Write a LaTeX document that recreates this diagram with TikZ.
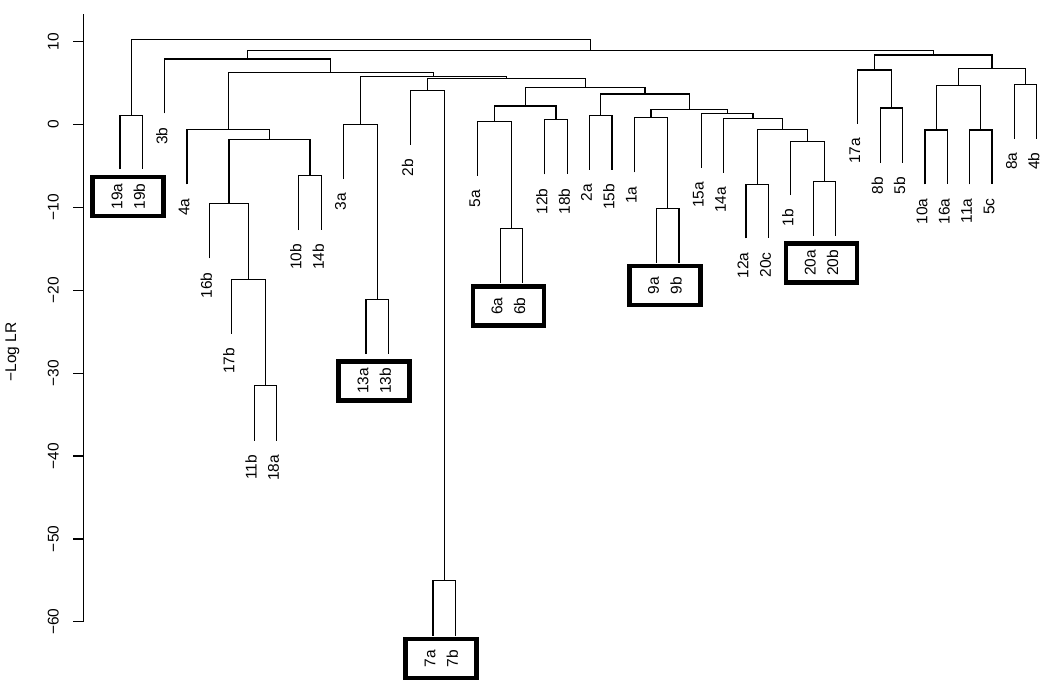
\documentclass[tikz,border=0pt]{standalone}
\usepackage{fontspec}
\setmainfont{Liberation Sans}
\usetikzlibrary{calc}
% join two clusters at a given height
\newcommand\dmerge[4]{%
  \coordinate (#1) at ($(#2)!0.5!(#3)$);
  \coordinate (#1) at (#1 |- 0,#4);
  \draw (#2) |- (#1) -| (#3);}
\begin{document}
\begin{tikzpicture}[x=22.36pt,y=8.29pt,line width=1.2pt,
  font=\fontsize{15.5}{18}\selectfont,
  leaflab/.style={rotate=90,anchor=east,inner sep=0pt},
  ticklab/.style={rotate=90,inner sep=0pt},
  pairbox/.style={draw,line width=4.5pt,minimum width=71pt,minimum height=39pt,inner sep=0pt}]
  \useasboundingbox (-5.367,-67.74) rectangle (41.592,15.006);

  % axis
  \coordinate (axtop) at (-1.64,13.3);
  \coordinate (axbot) at (-1.64,-60);
  \draw (axtop) -- (axbot);
  \foreach \t/\lab in {10/10,0/0,-10/−10,-20/−20,-30/−30,-40/−40,-50/−50,-60/−60}{
    \coordinate (tk\t) at (-1.64,\t);
    \draw (tk\t) -- ++(-10.7pt,0);
    \node[ticklab] (tl\t) at ([xshift=-30pt]tk\t) {\lab};
  }
  \node[ticklab] (ylab) at (-4.81,-27.45) {−Log LR};

  % leaves
  \foreach \nm/\h [count=\i from 0] in {19a/-5.42,19b/-5.42,3b/1.34,4a/-7.23,16b/-16.15,
    17b/-25.28,11b/-38.15,18a/-38.15,10b/-12.74,14b/-12.74,3a/-6.59,13a/-27.70,13b/-27.70,
    2b/-2.48,7a/-61.68,7b/-61.68,5a/-6.22,6a/-19.17,6b/-19.17,12b/-6.02,18b/-6.02,
    2a/-5.50,15b/-5.50,1a/-5.78,9a/-16.68,9b/-16.68,15a/-5.22,14a/-5.86,12a/-13.74,
    20c/-13.74,1b/-8.52,20a/-13.46,20b/-13.46,17a/0.05,8b/-4.66,5b/-4.66,10a/-7.23,
    16a/-7.23,11a/-7.23,5c/-7.23,8a/-1.72,4b/-1.72}{
    \coordinate (l\nm) at (\i,\h);
    \node[leaflab] (t\nm) at ([xshift=-3pt,yshift=-13.5pt]l\nm) {\nm};
  }

  % tree
  \dmerge{m19}{l19a}{l19b}{1.10}
  \dmerge{m11b}{l11b}{l18a}{-31.52}
  \dmerge{m17b}{l17b}{m11b}{-18.68}
  \dmerge{m16b}{l16b}{m17b}{-9.52}
  \dmerge{m10b}{l10b}{l14b}{-6.19}
  \dmerge{mA}{m16b}{m10b}{-1.85}
  \dmerge{m4a}{l4a}{mA}{-0.64}
  \dmerge{m13}{l13a}{l13b}{-21.10}
  \dmerge{m3a}{l3a}{m13}{-0.05}
  \dmerge{m7}{l7a}{l7b}{-55.04}
  \dmerge{m2b}{l2b}{m7}{4.11}
  \dmerge{m6}{l6a}{l6b}{-12.53}
  \dmerge{m5a}{l5a}{m6}{0.33}
  \dmerge{m12b}{l12b}{l18b}{0.57}
  \dmerge{mB}{m5a}{m12b}{2.22}
  \dmerge{m2a}{l2a}{l15b}{1.10}
  \dmerge{m9}{l9a}{l9b}{-10.12}
  \dmerge{m1a}{l1a}{m9}{0.81}
  \dmerge{m12a}{l12a}{l20c}{-7.23}
  \dmerge{m20}{l20a}{l20b}{-6.91}
  \dmerge{m1b}{l1b}{m20}{-2.04}
  \dmerge{mC}{m12a}{m1b}{-0.64}
  \dmerge{m14a}{l14a}{mC}{0.74}
  \dmerge{m15a}{l15a}{m14a}{1.29}
  \dmerge{mD}{m1a}{m15a}{1.77}
  \dmerge{mE}{m2a}{mD}{3.67}
  \dmerge{mF}{mB}{mE}{4.48}
  \dmerge{mG}{m2b}{mF}{5.51}
  \dmerge{mH}{m3a}{mG}{5.75}
  \dmerge{mI}{m4a}{mH}{6.24}
  \dmerge{mJ}{l3b}{mI}{7.89}
  \dmerge{m8b}{l8b}{l5b}{1.98}
  \dmerge{m17a}{l17a}{m8b}{6.56}
  \dmerge{m10a}{l10a}{l16a}{-0.68}
  \dmerge{m11a}{l11a}{l5c}{-0.68}
  \dmerge{mK}{m10a}{m11a}{4.72}
  \dmerge{m8a}{l8a}{l4b}{4.84}
  \dmerge{mL}{mK}{m8a}{6.77}
  \dmerge{mM}{m17a}{mL}{8.37}
  \dmerge{mN}{mJ}{mM}{8.94}
  \dmerge{root}{m19}{mN}{10.22}

  % boxed pairs
  \foreach \p/\q in {19a/19b,13a/13b,7a/7b,6a/6b,9a/9b,20a/20b}
    \node[pairbox] (b\p) at ($(t\p)!0.5!(t\q)$) {};
\end{tikzpicture}
\end{document}
